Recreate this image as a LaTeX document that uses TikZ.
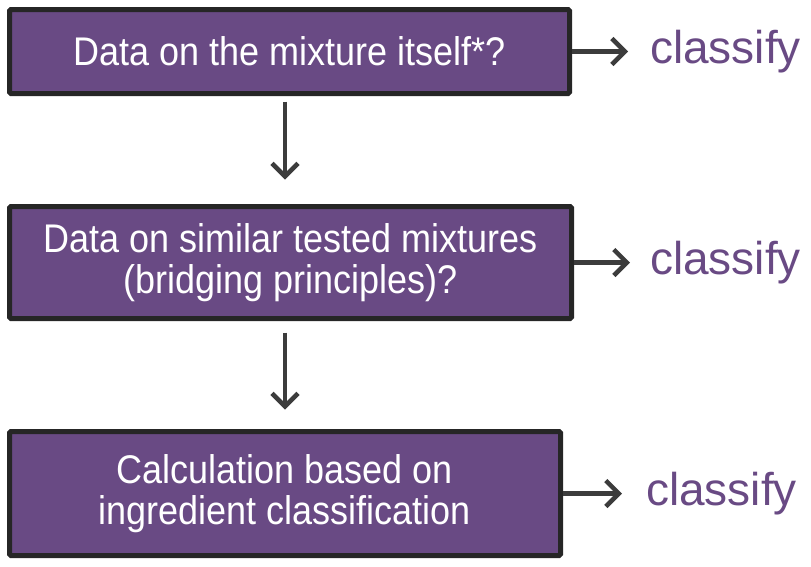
\documentclass[tikz,border=0pt]{standalone}
\usepackage{fontspec}
\setmainfont{Liberation Sans}
\newfontfamily\narrowfont[FakeStretch=0.9]{Liberation Sans}
\usepackage{tikz}
\usetikzlibrary{arrows.meta}
\tikzset{>={Straight Barb[length=13pt,width=26pt,line width=4.5pt]}}
\usepackage{xcolor}
\definecolor{boxcol}{RGB}{105,74,132}
\definecolor{edgecol}{RGB}{38,38,38}
\definecolor{arrcol}{RGB}{60,60,60}
\tikzstyle{qbox}=[draw=edgecol,fill=boxcol,line width=5pt,rounded corners=1.5pt,
  text=white,align=center,inner sep=0pt,font=\narrowfont\fontsize{40}{41}\selectfont]
\tikzstyle{flow}=[->,arrcol,line width=4.5pt]
\tikzstyle{result}=[text=boxcol,anchor=west,inner sep=0pt,font=\fontsize{46}{50}\selectfont]

\begin{document}
\begin{tikzpicture}[x=1pt,y=-1pt]
  \useasboundingbox (0,0) rectangle (811,566);

  % first question
  \node[qbox,minimum width=560pt,minimum height=84pt] (q1) at (289.5,51.5)
    {Data on the mixture itself*?};
  \node[result] (c1) at (650,51.5) {classify};

  % second question
  \node[qbox,minimum width=562pt,minimum height=112pt] (q2) at (290.5,262.5)
    {Data on similar tested mixtures\\(bridging principles)?};
  \node[result] (c2) at (650,262.5) {classify};

  % third question
  \node[qbox,minimum width=551pt,minimum height=124pt] (q3) at (285,493.5)
    {Calculation based on\\ingredient classification};
  \node[result] (c3) at (646,493.5) {classify};

  \draw[flow, shorten >=22pt] (q1) -- (c1);
  \draw[flow, shorten >=20pt] (q2) -- (c2);
  \draw[flow, shorten >=24pt] (q3) -- (c3);

  \draw[flow, shorten <=5.5pt, shorten >=24.5pt] ([xshift=-4.5pt]q1.south) -- ([xshift=-5.5pt]q2.north);
  \draw[flow, shorten <=11.5pt, shorten >=19.5pt] ([xshift=-5.5pt]q2.south) -- ([xshift=0pt]q3.north);
\end{tikzpicture}
\end{document}
